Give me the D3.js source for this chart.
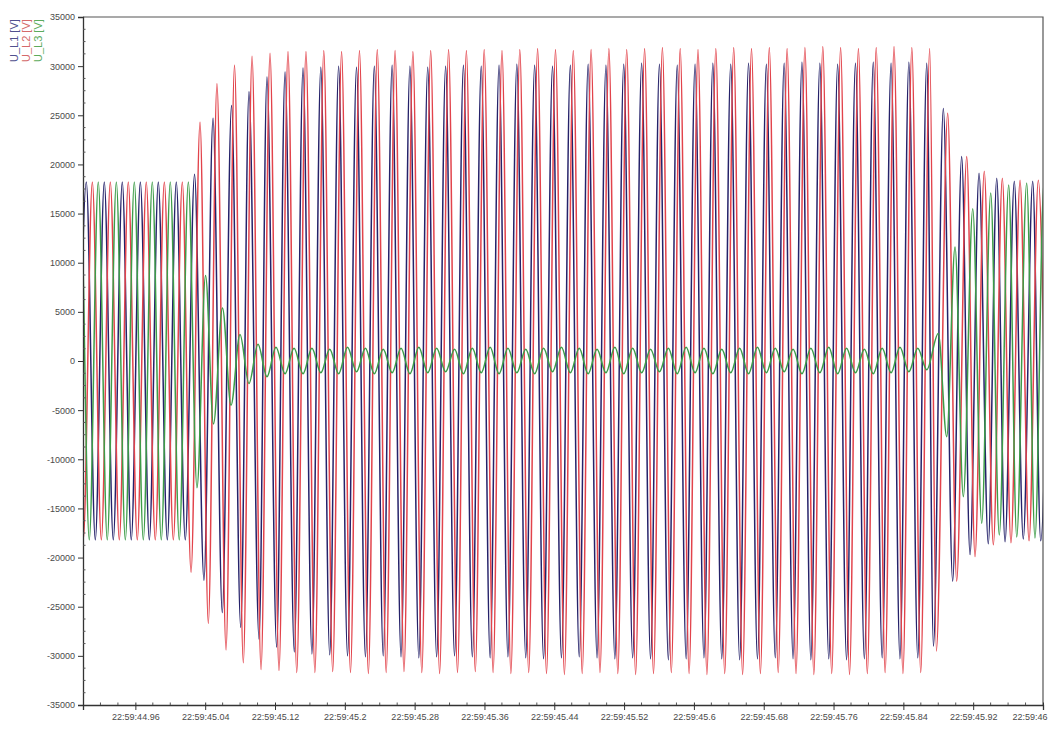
<!DOCTYPE html>
<html>
<head>
<meta charset="utf-8">
<title>U_L1 / U_L2 / U_L3</title>
<script src="https://cdn.jsdelivr.net/npm/d3@7"></script>
<style>
  html, body { margin: 0; padding: 0; background: #fff; }
  svg { display: block; }
  text { font-family: "Liberation Sans", Arial, sans-serif; }
</style>
</head>
<body>
<svg id="chart" width="1048" height="734"></svg>
<script>
// Phase voltages, one [seconds past 22:59, volts] pair per peak / trough.
const seriesNames = ["U_L1 [V]", "U_L2 [V]", "U_L3 [V]"];

const uL1 = [
  [44.8935,-18200],[44.9038,18200],[44.9141,-18200],[44.9244,18200],[44.9347,-18200],[44.9450,18200],
  [44.9553,-18200],[44.9657,18200],[44.9760,-18200],[44.9863,18200],[44.9966,-18200],[45.0069,18200],
  [45.0172,-18200],[45.0278,19000],[45.0386,-22300],[45.0490,24700],[45.0596,-25600],[45.0702,26000],
  [45.0807,-27100],[45.0902,27400],[45.1017,-28300],[45.1108,28900],[45.1219,-29100],[45.1315,29400],
  [45.1421,-29600],
  [45.1521,29800],[45.1623,-29800],[45.1725,29900],[45.1827,-29900],[45.1929,30000],[45.2031,-30000],
  [45.2134,29900],[45.2236,-30100],[45.2338,30000],[45.2440,-30000],[45.2542,30100],[45.2644,-30100],
  [45.2746,30000],[45.2848,-30200],[45.2950,29900],[45.3052,-30100],[45.3155,30000],[45.3257,-30000],
  [45.3359,30100],[45.3461,-30100],[45.3563,30000],[45.3665,-30200],[45.3767,30100],[45.3869,-30100],
  [45.3971,30200],[45.4073,-30200],[45.4175,30100],[45.4277,-30300],[45.4380,30000],[45.4482,-30200],
  [45.4584,30100],[45.4686,-30100],[45.4788,30200],[45.4890,-30200],[45.4992,30100],[45.5094,-30300],
  [45.5196,30200],[45.5298,-30200],[45.5401,30300],[45.5503,-30300],[45.5605,30200],[45.5707,-30400],
  [45.5809,30100],[45.5911,-30300],[45.6013,30200],[45.6115,-30200],[45.6217,30300],[45.6319,-30300],
  [45.6422,30200],[45.6524,-30400],[45.6626,30300],[45.6728,-30300],[45.6830,30200],[45.6932,-30200],
  [45.7034,30300],[45.7136,-30300],[45.7238,30400],[45.7340,-30400],[45.7443,30300],[45.7545,-30300],
  [45.7647,30200],[45.7749,-30400],[45.7851,30300],[45.7953,-30300],[45.8055,30400],[45.8157,-30200],
  [45.8259,30300],[45.8361,-30300],[45.8463,30400],[45.8565,-30200],[45.8668,30300],[45.8745,-29000],
  [45.8858,25700],[45.8965,-22400],[45.9068,20800],[45.9164,-19700],[45.9267,19100],[45.9373,-18600],
  [45.9470,18600],[45.9565,-18400],[45.9671,18300],[45.9774,-18100],[45.9882,18300],[45.9974,-18300],
  [46.0080,18300]
];

const uL2 = [
  [44.8900,18200],[44.9003,-18200],[44.9107,18200],[44.9210,-18200],[44.9313,18200],[44.9416,-18200],
  [44.9519,18200],[44.9622,-18200],[44.9725,18200],[44.9828,-18200],[44.9932,18200],[45.0035,-18200],
  [45.0138,18200],[45.0238,-21500],[45.0341,24300],[45.0436,-26700],[45.0535,28200],[45.0639,-29400],
  [45.0736,30100],[45.0837,-30700],[45.0937,31000],[45.1040,-31400],[45.1143,31300],[45.1246,-31500],
  [45.1349,31500],[45.1449,-31700],
  [45.1555,31500],[45.1657,-31700],[45.1759,31600],[45.1861,-31600],[45.1963,31500],[45.2065,-31700],
  [45.2168,31600],[45.2270,-31800],[45.2372,31700],[45.2474,-31700],[45.2576,31600],[45.2678,-31600],
  [45.2780,31500],[45.2882,-31700],[45.2984,31600],[45.3086,-31800],[45.3189,31700],[45.3291,-31700],
  [45.3393,31600],[45.3495,-31600],[45.3597,31700],[45.3699,-31700],[45.3801,31600],[45.3903,-31800],
  [45.4005,31700],[45.4107,-31700],[45.4209,31800],[45.4311,-31800],[45.4414,31700],[45.4516,-31900],
  [45.4618,31600],[45.4720,-31800],[45.4822,31700],[45.4924,-31700],[45.5026,31800],[45.5128,-31800],
  [45.5230,31700],[45.5332,-31900],[45.5435,31800],[45.5537,-31800],[45.5639,31900],[45.5741,-31700],
  [45.5843,31800],[45.5945,-31800],[45.6047,31700],[45.6149,-31900],[45.6251,31800],[45.6353,-31800],
  [45.6456,31900],[45.6558,-31900],[45.6660,31800],[45.6762,-31800],[45.6864,31900],[45.6966,-31700],
  [45.7068,31800],[45.7170,-31800],[45.7272,31900],[45.7374,-31900],[45.7477,32000],[45.7579,-31800],
  [45.7681,31900],[45.7783,-31900],[45.7885,31800],[45.7987,-31800],[45.8089,31900],[45.8191,-31700],
  [45.8293,32000],[45.8395,-31800],[45.8497,31900],[45.8599,-31700],[45.8702,31800],[45.8778,-29500],
  [45.8908,25200],[45.9011,-22400],[45.9126,20800],[45.9221,-19900],[45.9327,19300],[45.9431,-18700],
  [45.9534,18600],[45.9633,-18500],[45.9737,18400],[45.9840,-18300],[45.9946,18400],[46.0046,-18300]
];

const uL3 = [
  [44.8866,-18200],[44.8969,18200],[44.9072,-18200],[44.9175,18200],[44.9278,-18200],[44.9382,18200],
  [44.9485,-18200],[44.9588,18200],[44.9691,-18200],[44.9794,18200],[44.9897,-18200],[45.0000,18200],
  [45.0103,-18200],[45.0207,18200],[45.0306,-12900],[45.0404,8700],[45.0495,-6400],[45.0598,5400],
  [45.0696,-4500],[45.0799,2700],[45.0902,-2300],[45.1005,1700],[45.1108,-1600],[45.1211,1400],
  [45.1315,-1300],[45.1418,1300],
  [45.1521,-1300],[45.1623,1300],[45.1725,-1200],[45.1827,1200],[45.1929,-1300],[45.2031,1400],
  [45.2134,-1100],[45.2236,1300],[45.2338,-1300],[45.2440,1200],[45.2542,-1200],[45.2644,1300],
  [45.2746,-1300],[45.2848,1400],[45.2950,-1200],[45.3052,1300],[45.3155,-1100],[45.3257,1200],
  [45.3359,-1300],[45.3461,1300],[45.3563,-1200],[45.3665,1400],[45.3767,-1300],[45.3869,1300],
  [45.3971,-1200],[45.4073,1200],[45.4175,-1300],[45.4277,1300],[45.4380,-1100],[45.4482,1400],
  [45.4584,-1200],[45.4686,1300],[45.4788,-1300],[45.4890,1200],[45.4992,-1200],[45.5094,1400],
  [45.5196,-1300],[45.5298,1300],[45.5401,-1200],[45.5503,1200],[45.5605,-1100],[45.5707,1300],
  [45.5809,-1300],[45.5911,1400],[45.6013,-1200],[45.6115,1300],[45.6217,-1300],[45.6319,1200],
  [45.6422,-1200],[45.6524,1300],[45.6626,-1300],[45.6728,1400],[45.6830,-1200],[45.6932,1300],
  [45.7034,-1100],[45.7136,1200],[45.7238,-1300],[45.7340,1300],[45.7443,-1200],[45.7545,1400],
  [45.7647,-1300],[45.7749,1300],[45.7851,-1200],[45.7953,1200],[45.8055,-1300],[45.8157,1300],
  [45.8259,-1200],[45.8361,1400],[45.8463,-1100],[45.8565,1300],[45.8668,-900],[45.8800,2800],
  [45.8897,-7700],[45.8992,11600],[45.9087,-13800],[45.9195,15500],[45.9298,-16500],[45.9401,17100],
  [45.9499,-17700],[45.9607,17900],[45.9699,-17900],[45.9813,18100],[45.9908,-18000],[46.0012,18200],
  [46.0115,-18200]
];

// Axis ticks
const xTickValues = [44.96, 45.04, 45.12, 45.2, 45.28, 45.36, 45.44, 45.52, 45.6, 45.68, 45.76, 45.84, 45.92, 46.0];
const xTickLabels = ["22:59:44.96", "22:59:45.04", "22:59:45.12", "22:59:45.2", "22:59:45.28", "22:59:45.36",
                     "22:59:45.44", "22:59:45.52", "22:59:45.6", "22:59:45.68", "22:59:45.76", "22:59:45.84",
                     "22:59:45.92", "22:59:46"];
const yTickValues = [-35000, -30000, -25000, -20000, -15000, -10000, -5000, 0,
                     5000, 10000, 15000, 20000, 25000, 30000, 35000];

const phaseColors = ["#25226a", "#e2434b", "#3d9c48"];
const legendColors = ["#50508e", "#d46a6a", "#5cab5c"];

const margin = { left: 83, right: 5, top: 17, bottom: 29 };
const W = 1048, H = 734;

const svg = d3.select("#chart");

const x = d3.scaleLinear().domain([44.9, 46.0]).range([margin.left, W - margin.right]);
const y = d3.scaleLinear().domain([-35000, 35000]).range([H - margin.bottom, margin.top]);

svg.append("defs").append("clipPath").attr("id", "plot-clip")
  .append("rect")
  .attr("x", x.range()[0]).attr("y", y.range()[1])
  .attr("width", x.range()[1] - x.range()[0])
  .attr("height", y.range()[0] - y.range()[1]);

// Waveforms: smooth curve through successive extrema
const line = d3.line()
  .x(d => x(d[0]))
  .y(d => y(d[1]))
  .curve(d3.curveMonotoneX);

const plot = svg.append("g").attr("clip-path", "url(#plot-clip)");
[uL1, uL2, uL3].forEach((s, i) => {
  plot.append("path")
    .datum(s)
    .attr("fill", "none")
    .attr("stroke", phaseColors[i])
    .attr("stroke-width", 1.5)
    .attr("stroke-linejoin", "round")
    .attr("d", line);
});

// Frame: top and right edges
svg.append("path")
  .attr("d", `M${x.range()[0]},${y.range()[1]}H${x.range()[1]}V${y.range()[0]}`)
  .attr("fill", "none").attr("stroke", "#555").attr("stroke-width", 1.2);

// Y axis
const yAxis = svg.append("g")
  .attr("transform", `translate(${x.range()[0]},0)`)
  .call(d3.axisLeft(y).tickValues(yTickValues).tickSize(5).tickPadding(3)
        .tickFormat(d => String(d)));

// Minor y ticks (inside the plot)
const yMinor = d3.range(-35000, 35001, 1250).filter(v => v % 5000 !== 0);
svg.append("g").selectAll("line").data(yMinor).join("line")
  .attr("x1", x.range()[0]).attr("x2", x.range()[0] + 2.5)
  .attr("y1", d => y(d)).attr("y2", d => y(d))
  .attr("stroke", "#555").attr("stroke-width", 1);

// X axis
const xAxis = svg.append("g")
  .attr("transform", `translate(0,${y.range()[0]})`)
  .call(d3.axisBottom(x).tickValues(xTickValues).tickSize(5).tickPadding(4)
        .tickFormat((d, i) => xTickLabels[i]));

xAxis.selectAll(".tick").append("line")
  .attr("y1", 0).attr("y2", -2.5).attr("stroke", "#333");

// The last label sits on the right edge; keep it inside the canvas
xAxis.selectAll(".tick text")
  .filter((d, i) => i === xTickValues.length - 1)
  .attr("text-anchor", "end")
  .attr("x", W - 1 - x(xTickValues[xTickValues.length - 1]));

// Minor x ticks every 0.02 s (inside the plot)
const xMinor = d3.range(0, 56).map(i => +(44.92 + i * 0.02).toFixed(2))
  .filter(v => v < 46.0 && !xTickValues.some(t => Math.abs(t - v) < 1e-6));
svg.append("g").selectAll("line").data(xMinor).join("line")
  .attr("x1", d => x(d)).attr("x2", d => x(d))
  .attr("y1", y.range()[0]).attr("y2", y.range()[0] - 2.5)
  .attr("stroke", "#555").attr("stroke-width", 1);

[yAxis, xAxis].forEach(g => {
  g.select(".domain").attr("stroke", "#333").attr("stroke-width", 1.3);
  g.selectAll(".tick line").attr("stroke", "#333");
  g.selectAll(".tick text")
    .attr("fill", "#4a4a4a")
    .style("font-size", "9px")
    .style("font-family", "'Liberation Sans', Arial, sans-serif");
});

// Legend: vertical series names in the top-left corner
const legend = svg.append("g");
seriesNames.forEach((name, i) => {
  legend.append("text")
    .attr("transform", `translate(${18 + i * 12},62) rotate(-90)`)
    .attr("text-anchor", "start")
    .attr("fill", legendColors[i])
    .style("font-size", "11px")
    .text(name);
});
</script>
</body>
</html>
